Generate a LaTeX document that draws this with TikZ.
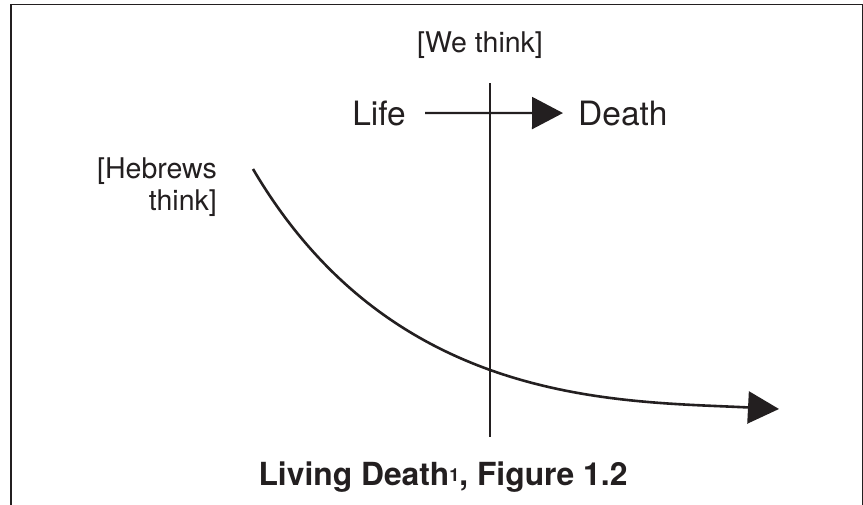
\documentclass[tikz,border=0pt]{standalone}
\usepackage{fontspec}
\setmainfont{TeX Gyre Heros}
\usetikzlibrary{arrows.meta}
\definecolor{ink}{RGB}{35,31,32}
\begin{document}
\begin{tikzpicture}[x=1pt,y=-1pt,
  lbl/.style={inner sep=0pt, text=ink, font=\fontsize{28.5}{32}\selectfont},
  big/.style={inner sep=0pt, text=ink, font=\fontsize{33.5}{36}\selectfont},
  captext/.style={inner sep=0pt, text=ink, font=\bfseries\fontsize{31.8}{34}\selectfont},
  bigarrow/.style={draw=ink, line width=2.2pt, -{Triangle[length=31pt,width=32pt]}},
  axis/.style={draw=ink, line width=2.2pt},
  frame/.style={draw=ink, line width=1.5pt}]
\useasboundingbox (0,0) rectangle (863,504);
\fill[white] (0,0) rectangle (863,504);
\draw[frame] (11,530) -- (11,4.5) -- (862.5,4.5) -- (862.5,530);
% texts
\node[lbl, anchor=base] (we) at (480,52) {[We think]};
\node[big, anchor=base east] (life) at (406,125) {Life};
\node[big, anchor=base west] (death) at (578,125) {Death};
\node[lbl, anchor=base east, align=right] (heb) at (217,210) {[Hebrews\\think]};
\node[captext, anchor=base] (caption) at (443,485) {Living Death{\fontsize{18}{18}\selectfont\raisebox{3.5pt}{1}}, Figure 1.2};
% vertical line
\coordinate (vtop) at (490,83);
\coordinate (vbot) at (490,437);
\draw[axis] (vtop) -- (vbot);
% horizontal arrow
\draw[bigarrow] ([xshift=19pt]life.east) -- ([xshift=-15pt]death.west);
% curve
\coordinate (cstart) at (253,169);
\coordinate (cend) at (779,409);
\draw[bigarrow, line width=2.6pt] (cstart) .. controls (393,407) and (620,401) .. (cend);
\end{tikzpicture}
\end{document}
